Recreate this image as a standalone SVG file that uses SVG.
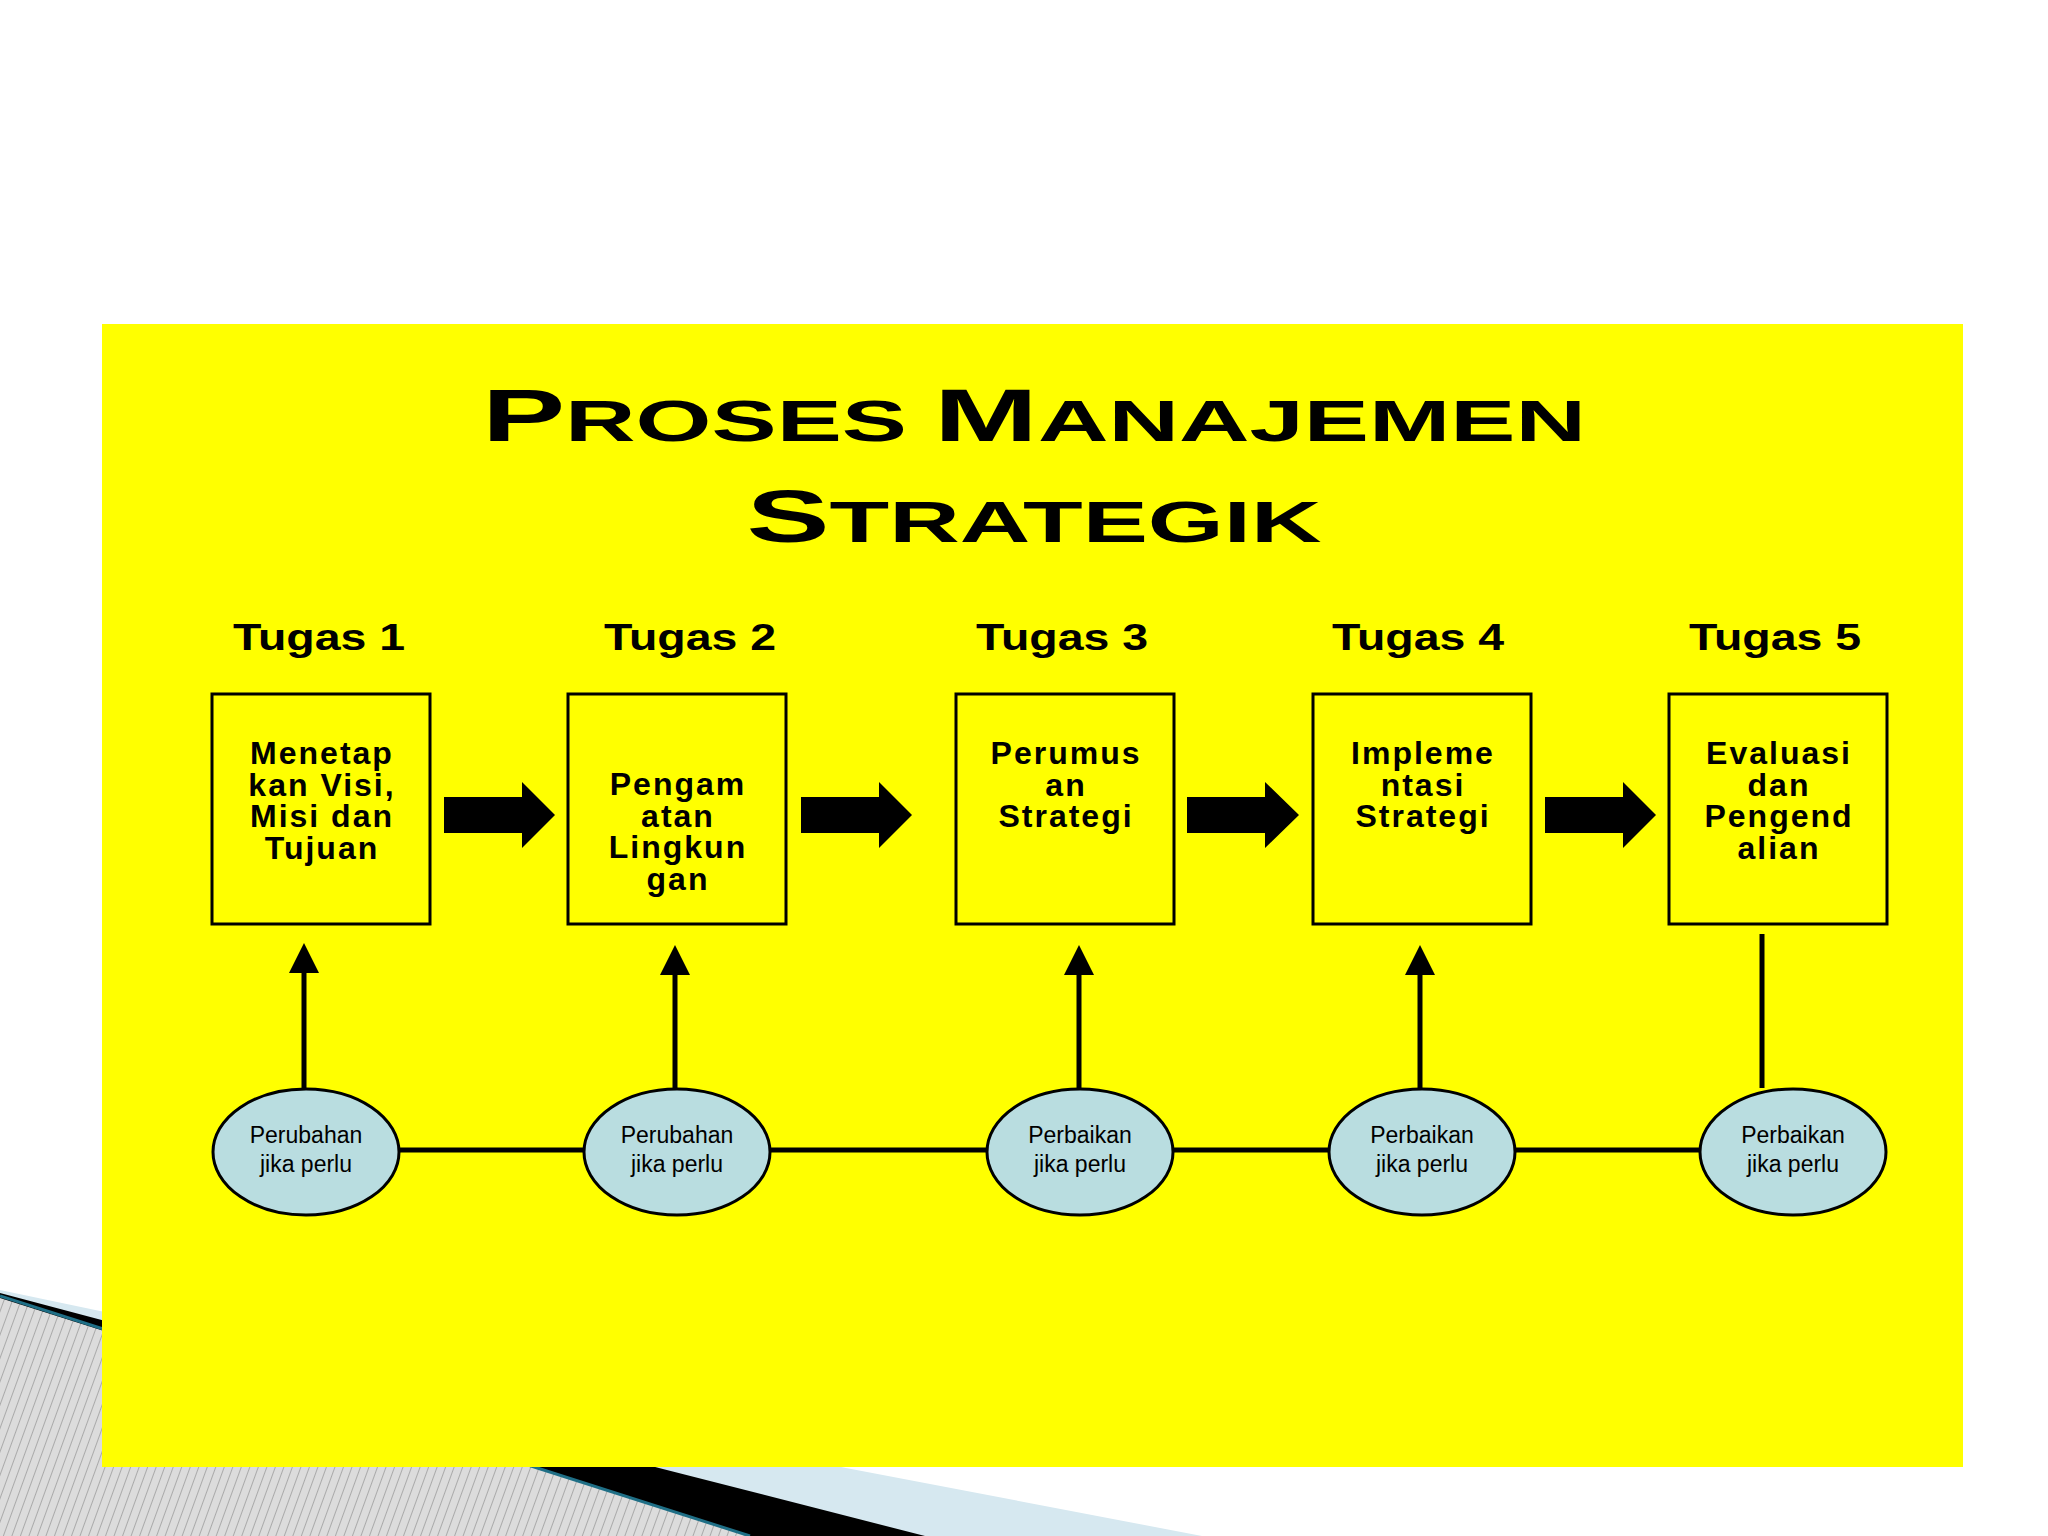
<svg xmlns="http://www.w3.org/2000/svg" width="2048" height="1536" viewBox="0 0 2048 1536">
<defs>
<style>
.t{font-family:"Liberation Sans",Arial,sans-serif;font-weight:bold;fill:#000}
.box{fill:none;stroke:#000;stroke-width:3}
.bt{font-family:"Liberation Sans",Arial,sans-serif;font-weight:bold;font-size:32px;letter-spacing:2px;text-anchor:middle}
.el{fill:#b9dde0;stroke:#000;stroke-width:3}
.et{font-family:"Liberation Sans",Arial,sans-serif;font-size:23px;text-anchor:middle}
.ln{stroke:#000;stroke-width:5;fill:none}
</style>
<pattern id="hatch" width="8" height="8" patternUnits="userSpaceOnUse" patternTransform="rotate(20)">
<rect width="8" height="8" fill="#dcdcdc"/><line x1="0" y1="0" x2="0" y2="8" stroke="#999" stroke-width="1.5"/>
</pattern>
<marker id="ah" markerWidth="6" markerHeight="6" refX="3" refY="3" orient="auto" markerUnits="strokeWidth"><path d="M0,0 L6,3 L0,6 z" fill="#000"/></marker>
</defs>
<rect width="2048" height="1536" fill="#fff"/>
<polygon points="1202,1536 846,1468 0,1290 0,1536" fill="#d6e8f0"/>
<polygon points="925,1536 659,1468 0,1293 0,1536" fill="#000"/>
<polygon points="750,1536 0,1298 0,1536" fill="url(#hatch)"/>
<line x1="0" y1="1296" x2="750" y2="1536" stroke="#1f6f86" stroke-width="3"/>
<rect x="102" y="324" width="1861" height="1143" fill="#ffff00"/>
<g id="title" class="t">
<text x="1034" y="441" text-anchor="middle" font-size="58" textLength="1104" lengthAdjust="spacingAndGlyphs"><tspan font-size="74">P</tspan>ROSES <tspan font-size="74">M</tspan>ANAJEMEN</text>
<text x="1034" y="542" text-anchor="middle" font-size="58" textLength="575" lengthAdjust="spacingAndGlyphs"><tspan font-size="74">S</tspan>TRATEGIK</text>
</g>
<g id="labels" class="t" font-size="36" text-anchor="middle">
<text x="319" y="650" textLength="172" lengthAdjust="spacingAndGlyphs">Tugas 1</text><text x="690" y="650" textLength="172" lengthAdjust="spacingAndGlyphs">Tugas 2</text><text x="1062" y="650" textLength="172" lengthAdjust="spacingAndGlyphs">Tugas 3</text><text x="1418" y="650" textLength="172" lengthAdjust="spacingAndGlyphs">Tugas 4</text><text x="1775" y="650" textLength="172" lengthAdjust="spacingAndGlyphs">Tugas 5</text>
</g>
<g id="connectors">
<line class="ln" x1="306" y1="1150" x2="1793" y2="1150"/>
<g fill="#000">
<polygon points="444,797 522,797 522,782 555,815 522,848 522,833 444,833"/>
<polygon points="801,797 879,797 879,782 912,815 879,848 879,833 801,833"/>
<polygon points="1187,797 1265,797 1265,782 1299,815 1265,848 1265,833 1187,833"/>
<polygon points="1545,797 1623,797 1623,782 1656,815 1623,848 1623,833 1545,833"/>
</g>
<line class="ln" x1="304" y1="1088" x2="304" y2="958" marker-end="url(#ah)"/>
<line class="ln" x1="675" y1="1088" x2="675" y2="960" marker-end="url(#ah)"/>
<line class="ln" x1="1079" y1="1088" x2="1079" y2="960" marker-end="url(#ah)"/>
<line class="ln" x1="1420" y1="1088" x2="1420" y2="960" marker-end="url(#ah)"/>
<line class="ln" x1="1762" y1="1088" x2="1762" y2="934"/>
</g>
<g id="box1"><rect class="box" x="212" y="694" width="218" height="230"/><text class="bt" x="322" y="764">Menetap<tspan x="322" dy="31.5">kan Visi,</tspan><tspan x="322" dy="31.5">Misi dan</tspan><tspan x="322" dy="31.5">Tujuan</tspan></text></g>
<g id="box2"><rect class="box" x="568" y="694" width="218" height="230"/><text class="bt" x="678" y="795">Pengam<tspan x="678" dy="31.5">atan</tspan><tspan x="678" dy="31.5">Lingkun</tspan><tspan x="678" dy="31.5">gan</tspan></text></g>
<g id="box3"><rect class="box" x="956" y="694" width="218" height="230"/><text class="bt" x="1066" y="764">Perumus<tspan x="1066" dy="31.5">an</tspan><tspan x="1066" dy="31.5">Strategi</tspan></text></g>
<g id="box4"><rect class="box" x="1313" y="694" width="218" height="230"/><text class="bt" x="1423" y="764">Impleme<tspan x="1423" dy="31.5">ntasi</tspan><tspan x="1423" dy="31.5">Strategi</tspan></text></g>
<g id="box5"><rect class="box" x="1669" y="694" width="218" height="230"/><text class="bt" x="1779" y="764">Evaluasi<tspan x="1779" dy="31.5">dan</tspan><tspan x="1779" dy="31.5">Pengend</tspan><tspan x="1779" dy="31.5">alian</tspan></text></g>
<g id="e1"><ellipse class="el" cx="306" cy="1152" rx="93" ry="63"/><text class="et" x="306" y="1143">Perubahan<tspan x="306" dy="29">jika perlu</tspan></text></g>
<g id="e2"><ellipse class="el" cx="677" cy="1152" rx="93" ry="63"/><text class="et" x="677" y="1143">Perubahan<tspan x="677" dy="29">jika perlu</tspan></text></g>
<g id="e3"><ellipse class="el" cx="1080" cy="1152" rx="93" ry="63"/><text class="et" x="1080" y="1143">Perbaikan<tspan x="1080" dy="29">jika perlu</tspan></text></g>
<g id="e4"><ellipse class="el" cx="1422" cy="1152" rx="93" ry="63"/><text class="et" x="1422" y="1143">Perbaikan<tspan x="1422" dy="29">jika perlu</tspan></text></g>
<g id="e5"><ellipse class="el" cx="1793" cy="1152" rx="93" ry="63"/><text class="et" x="1793" y="1143">Perbaikan<tspan x="1793" dy="29">jika perlu</tspan></text></g>
</svg>
